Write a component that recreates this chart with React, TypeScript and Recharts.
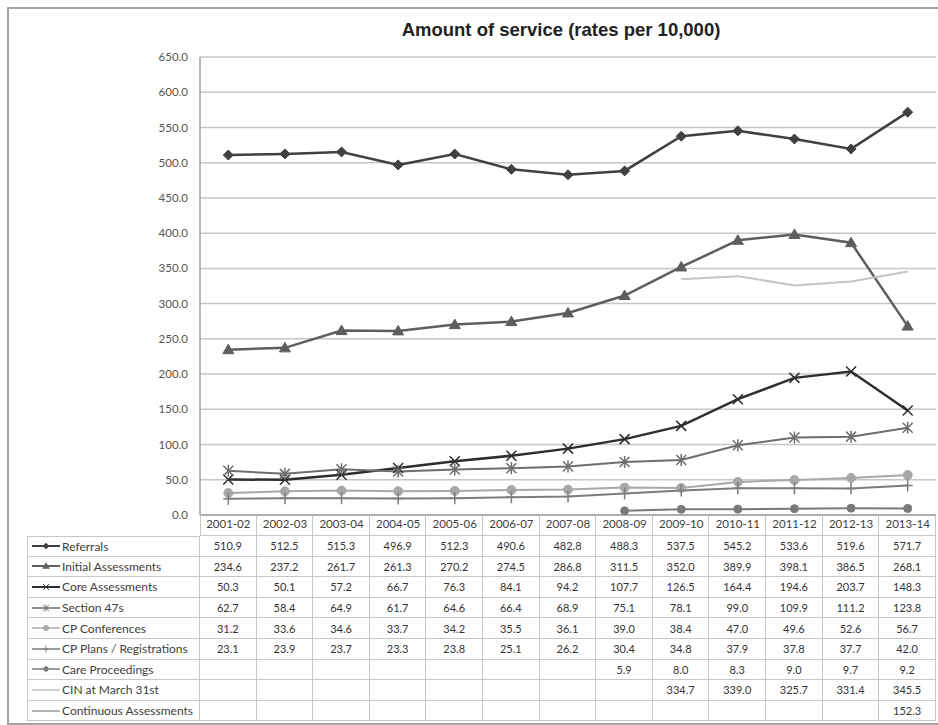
import React from "react";
import { LineChart, Line, XAxis, YAxis, CartesianGrid } from "recharts";

const years = ["2001-02", "2002-03", "2003-04", "2004-05", "2005-06", "2006-07", "2007-08", "2008-09", "2009-10", "2010-11", "2011-12", "2012-13", "2013-14"];
const referrals = [510.9, 512.5, 515.3, 496.9, 512.3, 490.6, 482.8, 488.3, 537.5, 545.2, 533.6, 519.6, 571.7];
const initialAssessments = [234.6, 237.2, 261.7, 261.3, 270.2, 274.5, 286.8, 311.5, 352.0, 389.9, 398.1, 386.5, 268.1];
const coreAssessments = [50.3, 50.1, 57.2, 66.7, 76.3, 84.1, 94.2, 107.7, 126.5, 164.4, 194.6, 203.7, 148.3];
const section47s = [62.7, 58.4, 64.9, 61.7, 64.6, 66.4, 68.9, 75.1, 78.1, 99.0, 109.9, 111.2, 123.8];
const cpConferences = [31.2, 33.6, 34.6, 33.7, 34.2, 35.5, 36.1, 39.0, 38.4, 47.0, 49.6, 52.6, 56.7];
const cpPlans = [23.1, 23.9, 23.7, 23.3, 23.8, 25.1, 26.2, 30.4, 34.8, 37.9, 37.8, 37.7, 42.0];
const careProceedings = [null, null, null, null, null, null, null, 5.9, 8.0, 8.3, 9.0, 9.7, 9.2];
const cinMarch31 = [null, null, null, null, null, null, null, null, 334.7, 339.0, 325.7, 331.4, 345.5];
const continuousAssessments = [null, null, null, null, null, null, null, null, null, null, null, null, 152.3];
const yTicks = [0, 50, 100, 150, 200, 250, 300, 350, 400, 450, 500, 550, 600, 650];

const series = [
  { key: "referrals", name: "Referrals", values: referrals, color: "#404040", width: 2.5, marker: "diamond" },
  { key: "initial", name: "Initial Assessments", values: initialAssessments, color: "#5e5e5e", width: 2.5, marker: "triangle" },
  { key: "core", name: "Core Assessments", values: coreAssessments, color: "#2e2e2e", width: 2.5, marker: "x" },
  { key: "s47", name: "Section 47s", values: section47s, color: "#6e6e6e", width: 2, marker: "star" },
  { key: "cpConf", name: "CP Conferences", values: cpConferences, color: "#a8a8a8", width: 2, marker: "circle" },
  { key: "cpPlans", name: "CP Plans / Registrations", values: cpPlans, color: "#7c7c7c", width: 2, marker: "plus" },
  { key: "care", name: "Care Proceedings", values: careProceedings, color: "#7a7a7a", width: 2, marker: "dot" },
  { key: "cin", name: "CIN at March 31st", values: cinMarch31, color: "#c4c4c4", width: 2, marker: "none" },
  { key: "continuous", name: "Continuous Assessments", values: continuousAssessments, color: "#9c9c9c", width: 2, marker: "none" },
];

const data = years.map((year, i) => {
  const row: any = { year };
  series.forEach((s) => {
    row[s.key] = s.values[i];
  });
  return row;
});

const FONT = "Lato, 'Open Sans', sans-serif";
const GRID = "#c6c6c6";
const PLOT_LEFT = 200;
const PLOT_RIGHT = 936;
const COL_W = (PLOT_RIGHT - PLOT_LEFT) / years.length;

function marker(shape: string, color: string, cx: number, cy: number, key?: any) {
  switch (shape) {
    case "diamond":
      return <path key={key} d={`M${cx},${cy - 5}L${cx + 5},${cy}L${cx},${cy + 5}L${cx - 5},${cy}Z`} fill={color} stroke={color} strokeWidth={1} />;
    case "triangle":
      return <path key={key} d={`M${cx},${cy - 5.5}L${cx + 5.5},${cy + 4}L${cx - 5.5},${cy + 4}Z`} fill={color} stroke={color} strokeWidth={1} />;
    case "x":
      return <path key={key} d={`M${cx - 5},${cy - 5}L${cx + 5},${cy + 5}M${cx - 5},${cy + 5}L${cx + 5},${cy - 5}`} stroke={color} strokeWidth={1.5} fill="none" />;
    case "star":
      return <path key={key} d={`M${cx - 5},${cy - 5}L${cx + 5},${cy + 5}M${cx - 5},${cy + 5}L${cx + 5},${cy - 5}M${cx},${cy - 6}L${cx},${cy + 6}`} stroke={color} strokeWidth={1.5} fill="none" />;
    case "circle":
      return <circle key={key} cx={cx} cy={cy} r={4.5} fill={color} stroke={color} />;
    case "plus":
      return <path key={key} d={`M${cx},${cy - 6}L${cx},${cy + 6}M${cx - 5},${cy}L${cx + 5},${cy}`} stroke={color} strokeWidth={1.5} fill="none" />;
    case "dot":
      return <circle key={key} cx={cx} cy={cy} r={4} fill={color} stroke={color} />;
    default:
      return <g key={key} />;
  }
}

function LegendKey({ s }: { s: any }) {
  return (
    <svg width={32} height={12} style={{ display: "block", flex: "none" }}>
      <line x1={2} y1={6} x2={30} y2={6} stroke={s.color} strokeWidth={s.width - 0.5} />
      {s.marker !== "none" && (
        <g transform="translate(16,6) scale(0.6) translate(-16,-6)">{marker(s.marker, s.color, 16, 6)}</g>
      )}
    </svg>
  );
}

function DataTable() {
  const line = `1px solid ${GRID}`;
  const cells: any[] = [];
  // header row: blank legend cell + category divider cells
  cells.push(<div key="h-blank" />);
  years.forEach((y, i) => {
    cells.push(
      <div key={"h" + y} style={{ borderRight: line, borderLeft: i === 0 ? line : undefined, borderBottom: line }} />
    );
  });
  series.forEach((s, r) => {
    cells.push(
      <div
        key={s.key + "-name"}
        style={{
          borderLeft: line,
          borderRight: line,
          borderBottom: line,
          borderTop: r === 0 ? line : undefined,
          display: "flex",
          alignItems: "center",
          paddingLeft: 2,
          fontSize: 12,
          color: "#404040",
          whiteSpace: "nowrap",
        }}
      >
        <LegendKey s={s} />
        <span>{s.name}</span>
      </div>
    );
    s.values.forEach((v: number | null, i: number) => {
      cells.push(
        <div
          key={s.key + "-" + i}
          style={{
            borderRight: line,
            borderBottom: line,
            display: "flex",
            alignItems: "center",
            justifyContent: "center",
            fontSize: 11,
            color: "#333",
          }}
        >
          {v == null ? "" : v.toFixed(1)}
        </div>
      );
    });
  });
  return (
    <div
      style={{
        position: "absolute",
        left: 27,
        top: 515,
        display: "grid",
        gridTemplateColumns: `${PLOT_LEFT - 27}px repeat(${years.length}, ${COL_W}px)`,
        gridTemplateRows: `21px repeat(${series.length}, 20.6px)`,
        fontFamily: FONT,
        boxSizing: "border-box",
      }}
    >
      {cells.map((c) => React.cloneElement(c, { style: { ...c.props.style, boxSizing: "border-box" } }))}
    </div>
  );
}

export default function App() {
  return (
    <div style={{ position: "absolute", left: 0, top: 0, width: 938, height: 725, overflow: "hidden", background: "#fff", fontFamily: FONT }}>
      <div style={{ position: "absolute", left: 7, top: 7, width: 940, height: 714, borderLeft: "2px solid #a4a4a4", borderTop: "2px solid #a4a4a4", borderBottom: "2px solid #a4a4a4" }} />
      <div style={{ position: "absolute", left: 261, top: 19, width: 600, textAlign: "center", fontFamily: "'Liberation Sans', Arial, sans-serif", fontWeight: "bold", fontSize: 18.5, color: "#222" }}>
        Amount of service (rates per 10,000)
      </div>
      <div style={{ position: "absolute", left: 0, top: 0 }}>
        <LineChart width={938} height={536} data={data} margin={{ top: 57, right: 938 - PLOT_RIGHT, bottom: 0, left: 0 }}>
          <CartesianGrid vertical={false} stroke={GRID} strokeWidth={1.5} />
          <XAxis
            dataKey="year"
            height={21}
            tickSize={0}
            tickMargin={5}
            padding={{ left: COL_W / 2, right: COL_W / 2 }}
            axisLine={{ stroke: "#a0a0a0", strokeWidth: 1.5 }}
            tick={{ fill: "#404040", fontSize: 11.5, fontFamily: FONT }}
            interval={0}
          />
          <YAxis
            width={PLOT_LEFT}
            domain={[0, 650]}
            ticks={yTicks}
            tickFormatter={(v: number) => v.toFixed(1)}
            tickSize={0}
            tickMargin={12}
            axisLine={{ stroke: "#a0a0a0", strokeWidth: 1.5 }}
            tick={{ fill: "#555", fontSize: 11.5, fontFamily: FONT }}
          />
          {series.map((s) => (
            <Line
              key={s.key}
              dataKey={s.key}
              name={s.name}
              type="linear"
              stroke={s.color}
              strokeWidth={s.width}
              isAnimationActive={false}
              dot={(p: any) => (p.cx == null || p.cy == null || p.value == null ? <g key={p.index} /> : marker(s.marker, s.color, p.cx, p.cy, p.index))}
              activeDot={false}
            />
          ))}
        </LineChart>
      </div>
      <DataTable />
    </div>
  );
}
